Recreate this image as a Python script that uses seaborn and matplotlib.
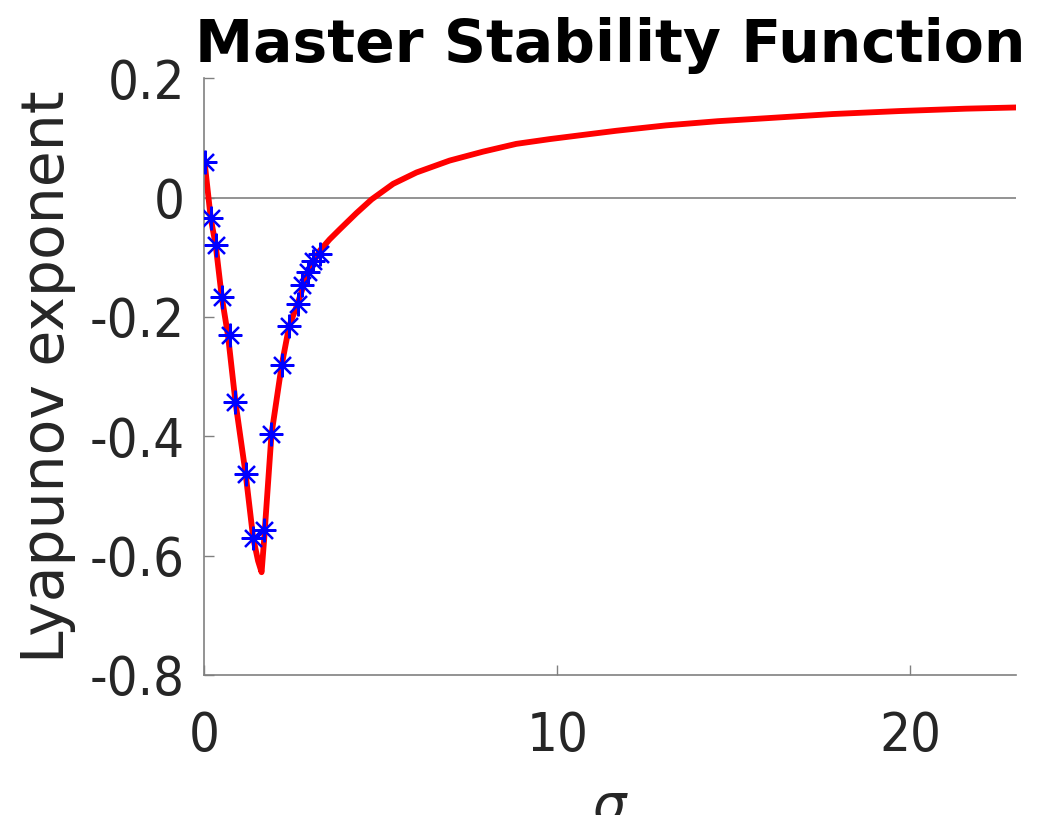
import matplotlib
matplotlib.use("Agg")
import matplotlib.pyplot as plt
import seaborn as sns
import pandas as pd

# MSF curve (sigma, Lyapunov exponent)
curve_sigma = [0.0, 0.18, 0.32, 0.49, 0.67, 0.88, 1.17, 1.38, 1.52, 1.62, 1.69, 1.71,
               1.90, 2.19, 2.40, 2.64, 2.94, 3.27, 3.55, 3.84, 4.31, 4.74, 5.35, 6.01,
               6.95, 7.90, 8.84, 9.79, 10.73, 11.68, 13.09, 14.55, 15.93, 17.81,
               19.70, 21.59, 23.0]
curve_lyap = [0.062, -0.035, -0.080, -0.166, -0.232, -0.343, -0.464, -0.570, -0.609,
              -0.628, -0.575, -0.558, -0.397, -0.281, -0.216, -0.178, -0.124, -0.089,
              -0.070, -0.053, -0.026, -0.003, 0.023, 0.042, 0.062, 0.077, 0.090, 0.098,
              0.105, 0.112, 0.121, 0.128, 0.133, 0.140, 0.145, 0.149, 0.151]

# eigenvalue markers
star_sigma = [0.03, 0.18, 0.32, 0.49, 0.72, 0.88, 1.17, 1.38, 1.69, 1.90, 2.19, 2.40,
              2.64, 2.77, 2.94, 3.08, 3.27]
star_lyap = [0.060, -0.035, -0.080, -0.166, -0.230, -0.343, -0.464, -0.570, -0.557,
             -0.397, -0.281, -0.216, -0.178, -0.146, -0.124, -0.106, -0.095]

yticks = [-0.8, -0.6, -0.4, -0.2, 0.0, 0.2]
ytick_labels = ["-0.8", "-0.6", "-0.4", "-0.2", "0", "0.2"]
xticks = [0, 10, 20]
xtick_labels = ["0", "10", "20"]

sns.set_theme(style="white")
plt.rcParams["font.family"] = ["DejaVu Sans"]

fig = plt.figure(figsize=(10.43, 8.15), dpi=100)
ax = fig.add_axes([0.196, 0.172, 0.778, 0.732])

ax.axhline(0, color="#808080", lw=1.2, zorder=1)

dfc = pd.DataFrame({"sigma": curve_sigma, "lyap": curve_lyap})
sns.lineplot(data=dfc, x="sigma", y="lyap", sort=False, estimator=None,
             color="#ff0000", lw=4.2, ax=ax, zorder=2)

dfs = pd.DataFrame({"sigma": star_sigma, "lyap": star_lyap})
sns.lineplot(data=dfs, x="sigma", y="lyap", sort=False, estimator=None,
             color="#0000ff", linestyle="", marker=(8, 2, 0), markersize=17,
             markeredgewidth=1.6, markeredgecolor="#0000ff", ax=ax, zorder=3)

ax.set_xlim(0, 23)
ax.set_ylim(-0.8, 0.2)
ax.set_xticks(xticks)
ax.set_yticks(yticks)
tick_font = dict(fontsize=39, color="#262626", fontstretch="condensed")
ax.set_xticklabels(xtick_labels, **tick_font)
ax.set_yticklabels(ytick_labels, **tick_font)

for s in ["top", "right"]:
    ax.spines[s].set_visible(False)
for s in ["left", "bottom"]:
    ax.spines[s].set_color("#808080")
    ax.spines[s].set_linewidth(1.2)

ax.tick_params(axis="both", which="major", bottom=True, left=True, direction="in",
               length=7, width=1, color="#808080")
ax.tick_params(axis="x", pad=25)
ax.tick_params(axis="y", pad=14)

ax.set_ylabel("Lyapunov exponent", fontsize=42, color="#262626", labelpad=10)
ax.set_xlabel(r"$\sigma$", fontsize=38, color="#262626", labelpad=14)
ax.set_title("Master Stability Function", fontsize=42, fontweight="bold",
             color="black", pad=12)

fig.savefig("out.png", dpi=100)
